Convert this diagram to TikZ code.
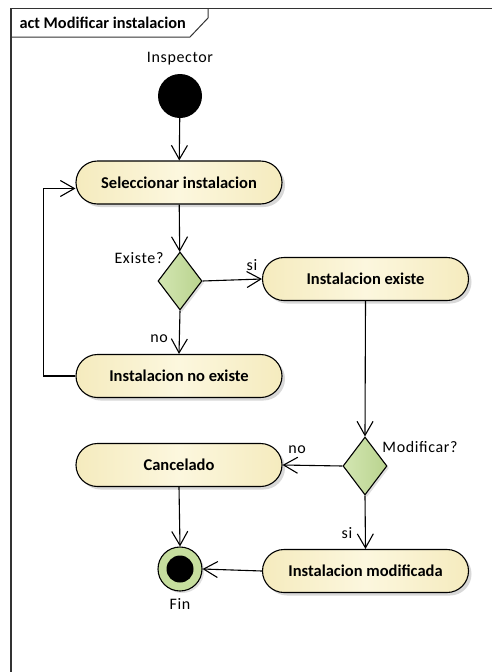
\documentclass[tikz,border=0pt]{standalone}
\usepackage{fontspec}
\setmainfont{Carlito}
\usetikzlibrary{arrows.meta,shapes.geometric,shadows}

\definecolor{actlight}{HTML}{FCF7DE}
\definecolor{actdark}{HTML}{F5EBBE}
\definecolor{declight}{HTML}{D3E6B2}
\definecolor{decdark}{HTML}{B9D38E}
\definecolor{finring}{HTML}{C6DE9E}

\tikzset{
  x=1pt, y=-1pt,
  every node/.style={font=\fontsize{16}{18}\selectfont\addfontfeatures{LetterSpace=4}},
  action/.style={draw=black, line width=1.1pt, rectangle, rounded corners=21.5pt,
    minimum width=206pt, minimum height=43pt, inner sep=0pt,
    left color=actdark, right color=actdark, middle color=actlight,
    font=\fontsize{16.5}{18}\bfseries\selectfont,
    drop shadow={shadow xshift=3pt, shadow yshift=-3pt, opacity=0.25, fill=black!60}},
  decision/.style={draw=black, line width=1.1pt, diamond, inner sep=0pt,
    minimum width=44pt, minimum height=58pt,
    left color=declight, right color=decdark,
    drop shadow={shadow xshift=2pt, shadow yshift=-2pt, opacity=0.2, fill=black!60}},
  flow/.style={draw=black, line width=1.1pt,
    -{Straight Barb[length=14pt, width=16pt, line width=1.1pt]}},
  lbl/.style={inner sep=1pt}
}

\begin{document}
\begin{tikzpicture}
  \useasboundingbox (0,0) rectangle (492,672);
  \fill[white] (0,0) rectangle (492,672);

  % diagram frame and its name tab
  \draw[line width=1.2pt, black!80] (492,8.5) -- (11,8.5) -- (11,672);
  \draw[line width=1pt, black!80] (11,37) -- (190,37) -- (208,18) -- (208,8.5);
  \node[anchor=west, font=\fontsize{16.3}{18}\bfseries\selectfont] (title) at (16,23) {act Modificar instalacion};

  % initial node
  \node[circle, fill=black, minimum size=44pt, inner sep=0pt] (init) at (180,96) {};
  \node (insp) at (180,59) {Inspector};

  % actions and decisions
  \node[action] (sel) at (179,182.5) {Seleccionar instalacion};
  \node[decision] (d1) at (180,281) {};
  \node[action] (exist) at (365.5,279) {Instalacion existe};
  \node[action] (noexist) at (179,376) {Instalacion no existe};
  \node[decision] (d2) at (365,466) {};
  \node[action] (cancel) at (179,465) {Cancelado};
  \node[action] (modif) at (365.5,571) {Instalacion modificada};

  % final node
  \node[circle, draw=black, line width=1.1pt, fill=finring, minimum size=44pt, inner sep=0pt,
        drop shadow={shadow xshift=2pt, shadow yshift=-2pt, opacity=0.2, fill=black!60}] (fin) at (180,569) {};
  \node[circle, fill=black, minimum size=27pt, inner sep=0pt] (finin) at (fin) {};
  \node (finlbl) at (180,604) {Fin};

  % guard / decision labels
  \node[lbl] (q1) at (139,258) {Existe?};
  \node[lbl] (q2) at (420,447) {Modificar?};
  \node[lbl] (g1) at (252,265) {si};
  \node[lbl] (g2) at (159,339) {no};
  \node[lbl] (g3) at (297,450) {no};
  \node[lbl] (g4) at (347,533) {si};

  % control flows
  \coordinate (loopcorner) at (43.5,376);
  \draw[flow] (init) -- (sel);
  \draw[flow] (sel) -- (d1);
  \draw[flow] (d1.east) -- (exist.west);
  \draw[flow] (d1.south) -- (noexist.north);
  \draw[flow] (noexist.west) -- (loopcorner) |- ([yshift=-6pt]sel.west);
  \draw[flow] (exist.south) -- (d2.north);
  \draw[flow] (d2.west) -- (cancel.east);
  \draw[flow] (d2.south) -- (modif.north);
  \draw[flow] (cancel.south) -- (fin.north);
  \draw[flow] (modif.west) -- (fin.east);
\end{tikzpicture}
\end{document}
